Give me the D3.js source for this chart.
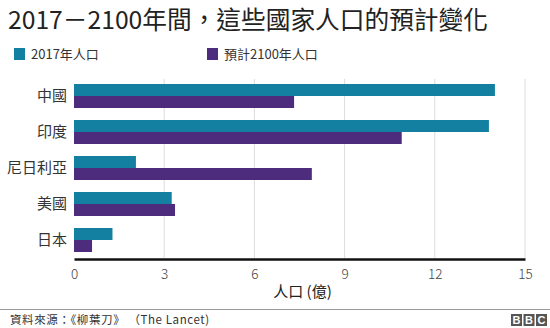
<!DOCTYPE html>
<html>
<head>
<meta charset="utf-8">
<script src="https://cdn.jsdelivr.net/npm/d3@7"></script>
<style>
  body { margin: 0; background: #fff; }
  svg text { font-family: "Noto Sans CJK TC", "Noto Sans", sans-serif; }
</style>
</head>
<body>
<div id="chart"></div>
<script>
//* data
var countries = ["中國", "印度", "尼日利亞", "美國", "日本"]
var pop2017 = [14.0, 13.8, 2.06, 3.25, 1.28]
var pop2100 = [7.32, 10.9, 7.91, 3.36, 0.6]
var seriesNames = ["2017年人口", "預計2100年人口"]
var xTicks = [0, 3, 6, 9, 12, 15]

var width = 550, height = 328
var margin = {top: 78, left: 74, right: 25, bottom: 70}

var svg = d3.select("#chart")
  .append("svg")
    .attr("width", width)
    .attr("height", height)

var colors = ["#1380a1", "#4d2c7e"]

// scales
var x = d3.scaleLinear()
  .domain([0, 15])
  .range([margin.left, width - margin.right])

var y = d3.scaleBand()
  .domain(countries)
  .range([margin.top, height - margin.bottom])
  .paddingInner(1/3)
  .paddingOuter(1/6)

var ySub = d3.scaleBand()
  .domain([0, 1])
  .range([0, y.bandwidth()])

//* title
svg.append("text")
  .attr("x", 8)
  .attr("y", 29)
  .attr("font-size", "24.7px")
  .attr("fill", "#222")
  .text("2017－2100年間，這些國家人口的預計變化")

//* legend
var legendX = [14, 207]
seriesNames.forEach(function (name, i) {
  svg.append("rect")
    .attr("x", legendX[i])
    .attr("y", 48)
    .attr("width", 11)
    .attr("height", 12)
    .attr("fill", colors[i])
  svg.append("text")
    .attr("x", legendX[i] + 17)
    .attr("y", 59)
    .attr("font-size", "13px")
    .attr("fill", "#333")
    .text(name)
})

//* gridlines
svg.selectAll(".grid")
  .data(xTicks.slice(1))
  .enter()
  .append("line")
    .attr("x1", function (d) { return x(d) })
    .attr("x2", function (d) { return x(d) })
    .attr("y1", margin.top + 1)
    .attr("y2", height - margin.bottom)
    .attr("stroke", "#dcdcdc")
    .attr("stroke-width", 1)

//* bars
var series = [pop2017, pop2100]
series.forEach(function (vals, s) {
  svg.selectAll(".bar" + s)
    .data(countries)
    .enter()
    .append("rect")
      .attr("x", x(0))
      .attr("y", function (d) { return y(d) + ySub(s) })
      .attr("width", function (d, i) { return x(vals[i]) - x(0) })
      .attr("height", ySub.bandwidth())
      .attr("fill", colors[s])
})

//* y labels
svg.selectAll(".ylab")
  .data(countries)
  .enter()
  .append("text")
    .attr("x", 67)
    .attr("y", function (d) { return y(d) + y.bandwidth() / 2 + 5 })
    .attr("text-anchor", "end")
    .attr("font-size", "15px")
    .attr("fill", "#333")
    .text(function (d) { return d })

//* x axis
var xAxis = svg.append("g")
  .attr("transform", "translate(0," + (height - margin.bottom + 1) + ")")
  .call(d3.axisBottom(x).tickValues(xTicks).tickSize(0).tickPadding(10))
xAxis.select(".domain")
  .attr("stroke", "#111")
  .attr("stroke-width", 2.5)
xAxis.selectAll("text")
  .attr("font-size", "13.5px")
  .attr("font-weight", 300)
  .attr("fill", "#444")

svg.append("text")
  .attr("x", (x(0) + x(15)) / 2 + 3)
  .attr("y", 297)
  .attr("text-anchor", "middle")
  .attr("font-size", "15px")
  .attr("fill", "#222")
  .text("人口 (億)")

//* footer
svg.append("line")
  .attr("x1", 0)
  .attr("x2", width)
  .attr("y1", 309.5)
  .attr("y2", 309.5)
  .attr("stroke", "#999")

svg.append("text")
  .attr("x", 10)
  .attr("y", 324)
  .attr("font-size", "11.5px")
  .attr("fill", "#333")
  .attr("letter-spacing", "0.6px")
  .attr("xml:space", "preserve")
  .text("資料來源：《柳葉刀》 （The Lancet)")

var bbc = ["B", "B", "C"]
bbc.forEach(function (ch, i) {
  var bx = 511 + i * 12.5
  svg.append("rect")
    .attr("x", bx)
    .attr("y", 314)
    .attr("width", 11)
    .attr("height", 12)
    .attr("fill", "#555")
  svg.append("text")
    .attr("x", bx + 5.5)
    .attr("y", 324)
    .attr("text-anchor", "middle")
    .attr("font-size", "11px")
    .attr("font-weight", "bold")
    .attr("fill", "#fff")
    .style("font-family", "Arial, 'Liberation Sans', sans-serif")
    .text(ch)
})
</script>
</body>
</html>
